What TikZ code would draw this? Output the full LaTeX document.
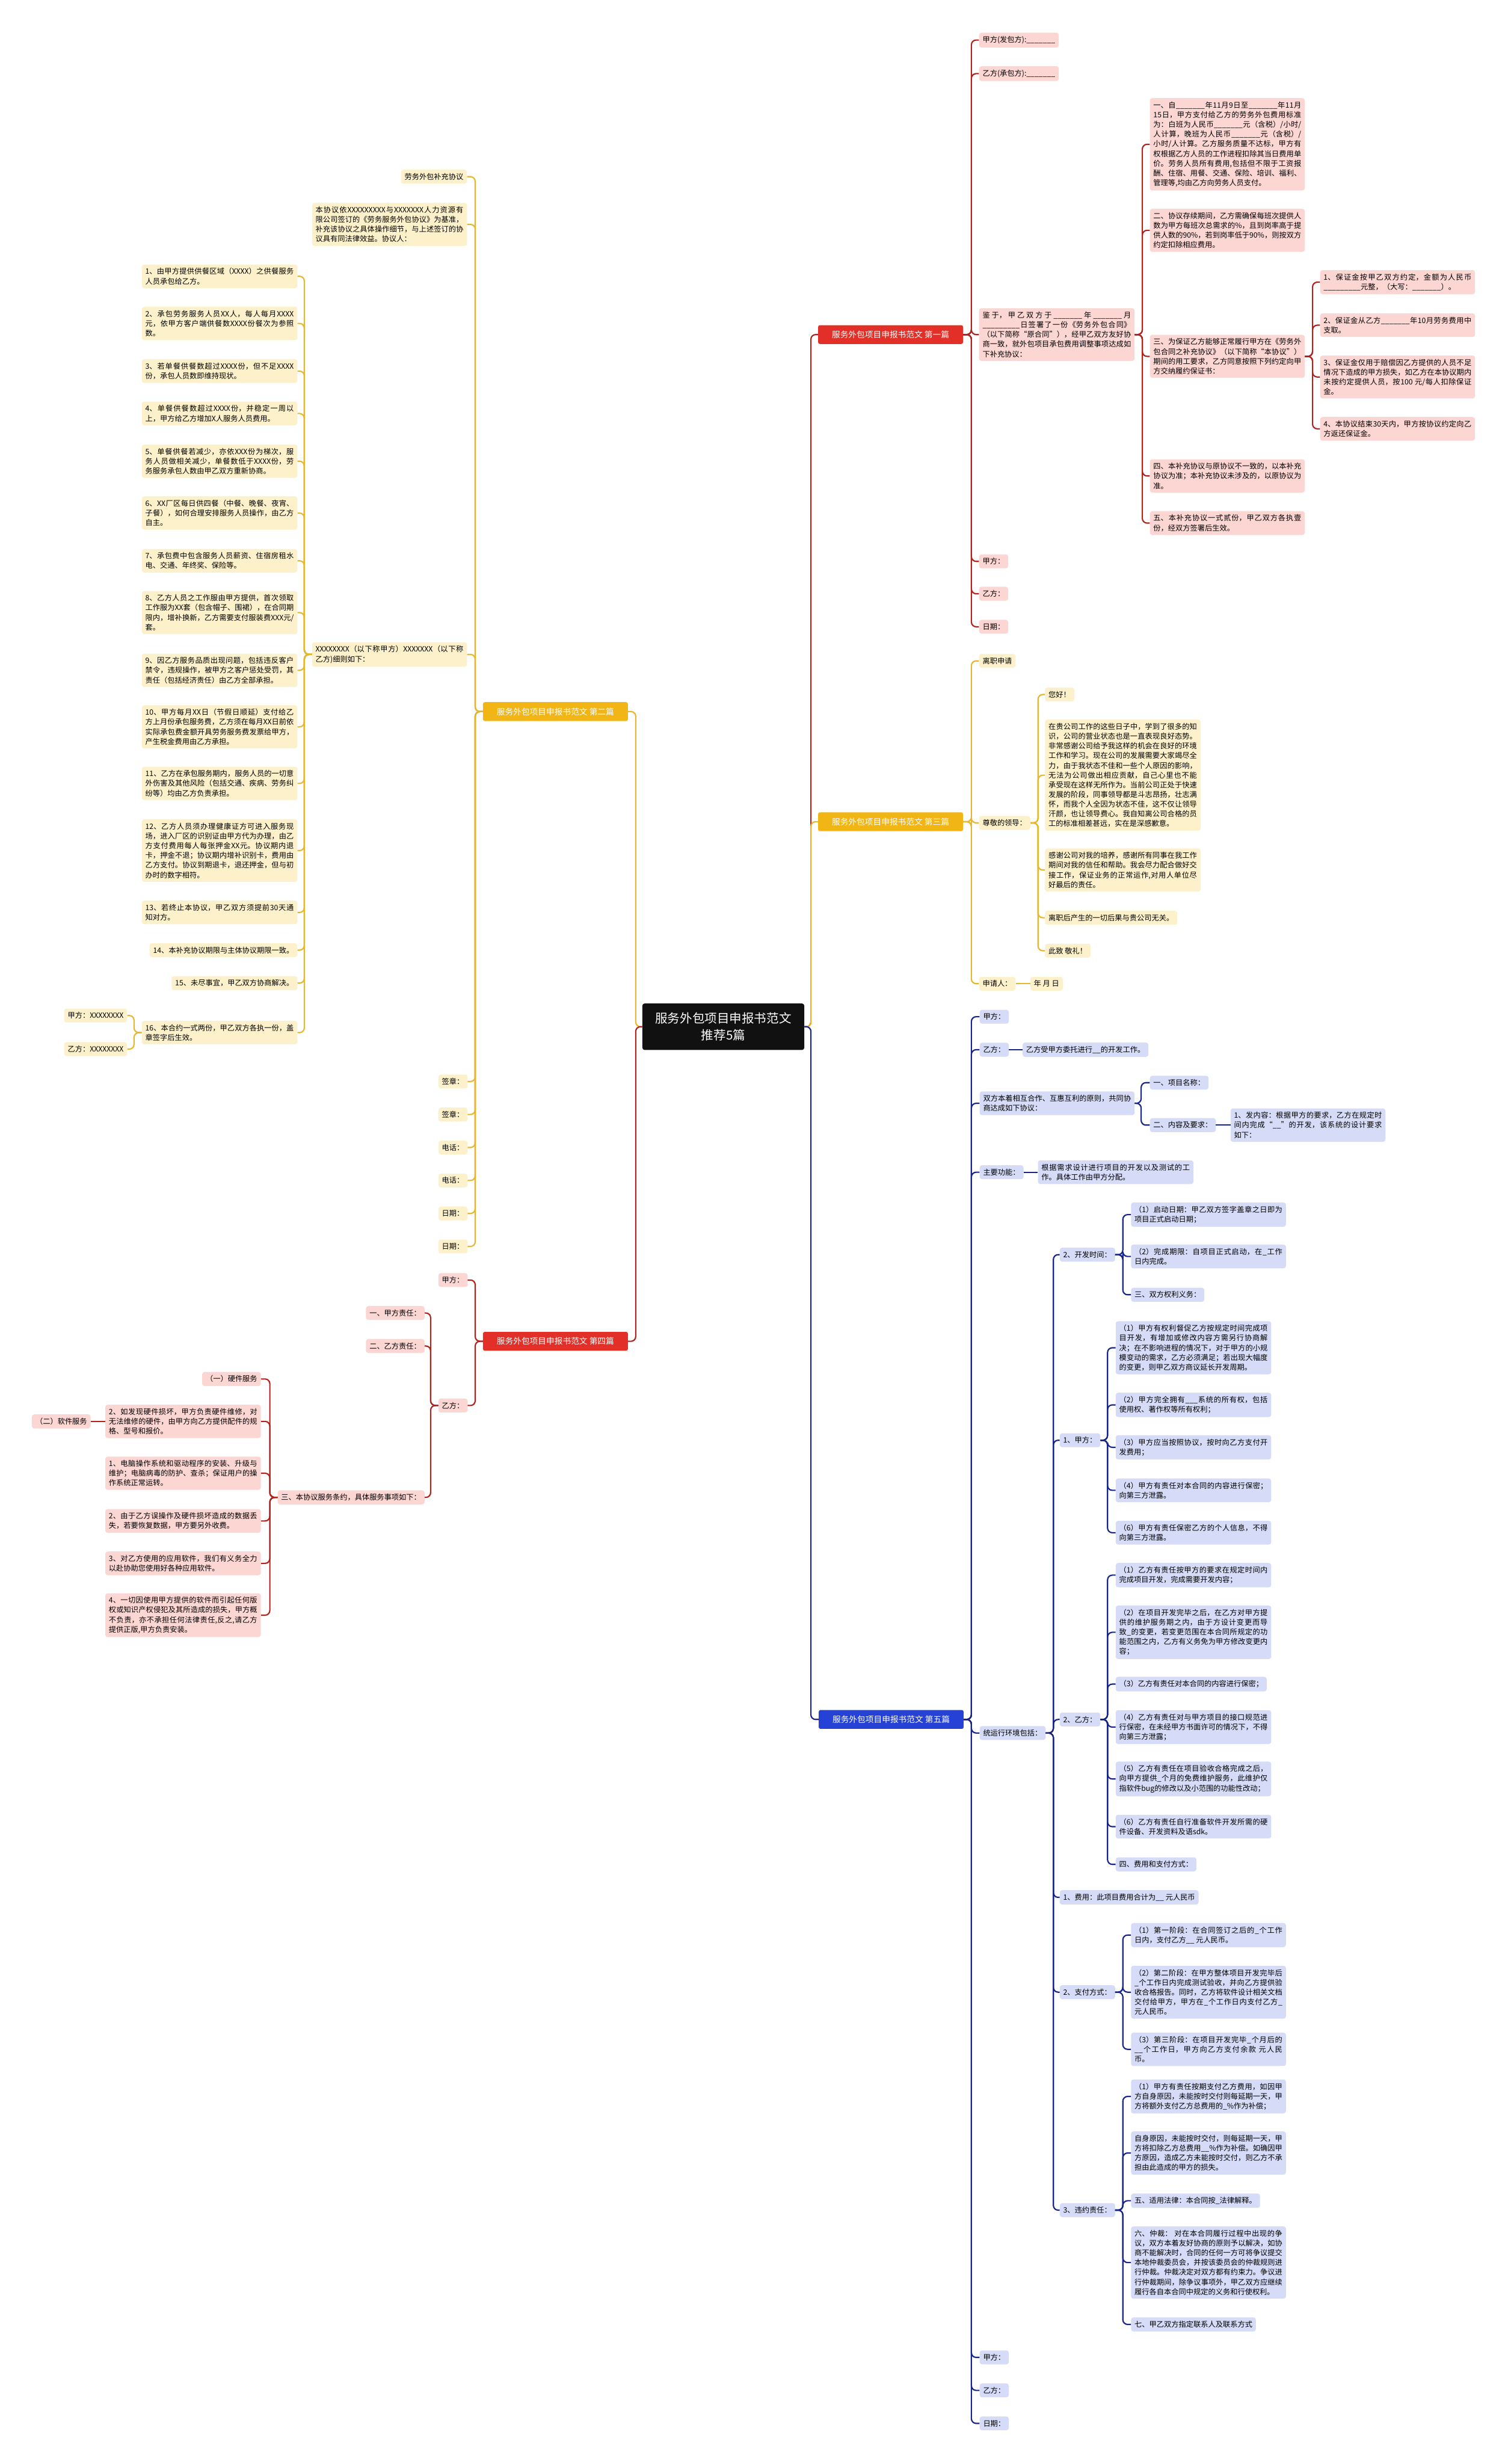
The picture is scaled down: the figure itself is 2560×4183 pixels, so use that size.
\documentclass[tikz,border=0pt]{standalone}
\usepackage{fontspec}
\setmainfont{Noto Sans CJK SC}
\XeTeXlinebreaklocale "zh"
\XeTeXlinebreakskip = 0pt plus 1pt
\usepackage{tikz}
\definecolor{rootcolor}{RGB}{17,17,17}
\definecolor{redhead}{RGB}{226,48,40}
\definecolor{redline}{RGB}{178,34,28}
\definecolor{redfill}{RGB}{251,214,211}
\definecolor{yelhead}{RGB}{241,181,22}
\definecolor{yelline}{RGB}{230,182,44}
\definecolor{yelfill}{RGB}{253,241,203}
\definecolor{bluehead}{RGB}{38,66,214}
\definecolor{blueline}{RGB}{22,36,140}
\definecolor{bluefill}{RGB}{214,219,247}
\newcommand{\blnk}{\_\_\_\_\_\_\_}

\begin{document}
\begin{tikzpicture}[
    x=1pt, y=-1pt,
    root/.style={rectangle, rounded corners=4pt, fill=rootcolor, text=white, minimum width=275pt, minimum height=79pt, align=center, font=\fontsize{21}{28}\selectfont},
    headbox/.style={rectangle, rounded corners=3pt, text=white, minimum width=246pt, minimum height=32pt, font=\fontsize{14}{16}\selectfont},
    topic/.style={rectangle, rounded corners=4pt, inner xsep=6pt, inner ysep=6pt, font=\fontsize{12.5}{16.5}\selectfont},
    redbox/.style={topic, fill=redfill},
    yelbox/.style={topic, fill=yelfill},
    bluebox/.style={topic, fill=bluefill},
    tw/.style={text width=#1, align=justify},
    redlink/.style={draw=redline, line width=2.2pt, rounded corners=8pt},
    yellink/.style={draw=yelline, line width=2.2pt, rounded corners=8pt},
    bluelink/.style={draw=blueline, line width=2.2pt, rounded corners=8pt}
]
\useasboundingbox (0,0) rectangle (2560,4183);
\fill[white] (0,0) rectangle (2560,4183);

% Root and headings
\node[root] (root) at (1228,1743) {服务外包项目申报书范文\\推荐5篇};
\node[headbox, fill=redhead] (h1) at (1512,568) {服务外包项目申报书范文 第一篇};
\node[headbox, fill=yelhead] (h2) at (943,1208) {服务外包项目申报书范文 第二篇};
\node[headbox, fill=yelhead] (h3) at (1512,1395) {服务外包项目申报书范文 第三篇};
\node[headbox, fill=redhead] (h4) at (943,2277) {服务外包项目申报书范文 第四篇};
\node[headbox, fill=bluehead] (h5) at (1513,2919) {服务外包项目申报书范文 第五篇};

% Branch 1
\node[redbox, anchor=west] (fa) at (1662,68) {甲方(发包方):\blnk};
\node[redbox, anchor=west] (cb) at (1662,125) {乙方(承包方):\blnk};
\node[redbox, anchor=west, tw=252pt] (whereas) at (1662,568) {鉴于，甲乙双方于\blnk 年\blnk 月\_\_\blnk 日签署了一份《劳务外包合同》（以下简称“原合同”），经甲乙双方友好协商一致，就外包项目承包费用调整事项达成如下补充协议：};
\node[redbox, anchor=west] (signA1) at (1662,953) {甲方：};
\node[redbox, anchor=west] (signB1) at (1662,1008) {乙方：};
\node[redbox, anchor=west] (date1) at (1662,1064) {日期：};

\node[redbox, anchor=west, tw=251pt] (cl1) at (1952,245) {一、自\blnk 年11月9日至\blnk 年11月15日，甲方支付给乙方的劳务外包费用标准为：白班为人民币\blnk 元（含税）/小时/人计算，晚班为人民币\blnk 元（含税）/小时/人计算。乙方服务质量不达标，甲方有权根据乙方人员的工作进程扣除其当日费用单价。劳务人员所有费用,包括但不限于工资报酬、住宿、用餐、交通、保险、培训、福利、管理等,均由乙方向劳务人员支付。};
\node[redbox, anchor=west, tw=251pt] (cl2) at (1952,391) {二、协议存续期间，乙方需确保每班次提供人数为甲方每班次总需求的\%，且到岗率高于提供人数的90\%，若到岗率低于90\%，则按双方约定扣除相应费用。};
\node[redbox, anchor=west, tw=251pt] (cl3) at (1952,605) {三、为保证乙方能够正常履行甲方在《劳务外包合同之补充协议》（以下简称“本协议”）期间的用工要求，乙方同意按照下列约定向甲方交纳履约保证书：};
\node[redbox, anchor=west, tw=251pt] (cl4) at (1952,808) {四、本补充协议与原协议不一致的，以本补充协议为准；本补充协议未涉及的，以原协议为准。};
\node[redbox, anchor=west, tw=251pt] (cl5) at (1952,888) {五、本补充协议一式贰份，甲乙双方各执壹份，经双方签署后生效。};

\node[redbox, anchor=west, tw=251pt] (dep1) at (2241,479) {1、保证金按甲乙双方约定，金额为人民币\_\_\blnk 元整，（大写：\blnk）。};
\node[redbox, anchor=west, tw=251pt] (dep2) at (2241,552) {2、保证金从乙方\blnk 年10月劳务费用中支取。};
\node[redbox, anchor=west, tw=251pt] (dep3) at (2241,640) {3、保证金仅用于赔偿因乙方提供的人员不足情况下造成的甲方损失，如乙方在本协议期内未按约定提供人员，按100 元/每人扣除保证金。};
\node[redbox, anchor=west, tw=251pt] (dep4) at (2241,728) {4、本协议结束30天内，甲方按协议约定向乙方返还保证金。};

% Branch 2
\node[yelbox, anchor=east] (title2) at (793,300) {劳务外包补充协议};
\node[yelbox, anchor=east, tw=251pt] (basis2) at (793,381) {本协议依XXXXXXXXX与XXXXXXX人力资源有限公司签订的《劳务服务外包协议》为基准，补充该协议之具体操作细节，与上述签订的协议具有同法律效益。协议人：};
\node[yelbox, anchor=east, tw=251pt] (parties2) at (793,1111) {XXXXXXXX（以下称甲方）XXXXXXX（以下称乙方)细则如下：};
\node[yelbox, anchor=east] (seal2a) at (794,1836) {签章：};
\node[yelbox, anchor=east] (seal2b) at (794,1892) {签章：};
\node[yelbox, anchor=east] (tel2a) at (794,1948) {电话：};
\node[yelbox, anchor=east] (tel2b) at (794,2004) {电话：};
\node[yelbox, anchor=east] (date2a) at (794,2060) {日期：};
\node[yelbox, anchor=east] (date2b) at (794,2116) {日期：};

\node[yelbox, anchor=east, tw=252pt] (it1) at (505,469) {1、由甲方提供供餐区域（XXXX）之供餐服务人员承包给乙方。};
\node[yelbox, anchor=east, tw=252pt] (it2) at (505,549) {2、承包劳务服务人员XX人，每人每月XXXX元，依甲方客户端供餐数XXXX份餐次为参照数。};
\node[yelbox, anchor=east, tw=252pt] (it3) at (505,630) {3、若单餐供餐数超过XXXX份，但不足XXXX份，承包人员数即维持现状。};
\node[yelbox, anchor=east, tw=252pt] (it4) at (505,702) {4、单餐供餐数超过XXXX份，并稳定一周以上，甲方给乙方增加X人服务人员费用。};
\node[yelbox, anchor=east, tw=252pt] (it5) at (505,783) {5、单餐供餐若减少，亦依XXX份为梯次，服务人员做相关减少，单餐数低于XXXX份，劳务服务承包人数由甲乙双方重新协商。};
\node[yelbox, anchor=east, tw=252pt] (it6) at (505,871) {6、XX厂区每日供四餐（中餐、晚餐、夜宵、子餐），如何合理安排服务人员操作，由乙方自主。};
\node[yelbox, anchor=east, tw=252pt] (it7) at (505,952) {7、承包费中包含服务人员薪资、住宿房租水电、交通、年终奖、保险等。};
\node[yelbox, anchor=east, tw=252pt] (it8) at (505,1040) {8、乙方人员之工作服由甲方提供，首次领取工作服为XX套（包含帽子、围裙），在合同期限内，增补换新，乙方需要支付服装费XXX元/套。};
\node[yelbox, anchor=east, tw=252pt] (it9) at (505,1138) {9、因乙方服务品质出现问题，包括违反客户禁令，违规操作，被甲方之客户惩处受罚，其责任（包括经济责任）由乙方全部承担。};
\node[yelbox, anchor=east, tw=252pt] (it10) at (505,1234) {10、甲方每月XX日（节假日顺延）支付给乙方上月份承包服务费，乙方须在每月XX日前依实际承包费金额开具劳务服务费发票给甲方，产生税金费用由乙方承担。};
\node[yelbox, anchor=east, tw=252pt] (it11) at (505,1330) {11、乙方在承包服务期内，服务人员的一切意外伤害及其他风险（包括交通、疾病、劳务纠纷等）均由乙方负责承担。};
\node[yelbox, anchor=east, tw=252pt] (it12) at (505,1444) {12、乙方人员须办理健康证方可进入服务现场，进入厂区的识别证由甲方代为办理，由乙方支付费用每人每张押金XX元。协议期内退卡，押金不退；协议期内增补识别卡，费用由乙方支付。协议到期退卡，退还押金，但与初办时的数字相符。};
\node[yelbox, anchor=east, tw=252pt] (it13) at (505,1549) {13、若终止本协议，甲乙双方须提前30天通知对方。};
\node[yelbox, anchor=east] (it14) at (505,1613) {14、本补充协议期限与主体协议期限一致。};
\node[yelbox, anchor=east] (it15) at (505,1669) {15、未尽事宜，甲乙双方协商解决。};
\node[yelbox, anchor=east, tw=252pt] (it16) at (505,1753) {16、本合约一式两份，甲乙双方各执一份，盖章签字后生效。};
\node[yelbox, anchor=east] (it16a) at (216,1724) {甲方：XXXXXXXX};
\node[yelbox, anchor=east] (it16b) at (216,1781) {乙方：XXXXXXXX};

% Branch 3
\node[yelbox, anchor=west] (resign) at (1662,1122) {离职申请};
\node[yelbox, anchor=west] (leader) at (1662,1397) {尊敬的领导：};
\node[yelbox, anchor=west] (applicant) at (1662,1670) {申请人：};
\node[yelbox, anchor=west] (ymd) at (1749,1670) {年 月 日};
\node[yelbox, anchor=west] (let1) at (1774,1179) {您好！};
\node[yelbox, anchor=west, tw=252pt] (let2) at (1774,1316) {在贵公司工作的这些日子中，学到了很多的知识，公司的营业状态也是一直表现良好态势。非常感谢公司给予我这样的机会在良好的环境工作和学习。现在公司的发展需要大家竭尽全力，由于我状态不佳和一些个人原因的影响，无法为公司做出相应贡献，自己心里也不能承受现在这样无所作为。当前公司正处于快速发展的阶段，同事领导都是斗志昂扬，壮志满怀，而我个人全因为状态不佳，这不仅让领导汗颜，也让领导费心。我自知离公司合格的员工的标准相差甚远，实在是深感歉意。};
\node[yelbox, anchor=west, tw=252pt] (let3) at (1774,1477) {感谢公司对我的培养，感谢所有同事在我工作期间对我的信任和帮助。我会尽力配合做好交接工作，保证业务的正常运作,对用人单位尽好最后的责任。};
\node[yelbox, anchor=west] (let4) at (1774,1558) {离职后产生的一切后果与贵公司无关。};
\node[yelbox, anchor=west] (let5) at (1774,1614) {此致 敬礼！};

% Branch 4
\node[redbox, anchor=east] (partyA4) at (794,2173) {甲方：};
\node[redbox, anchor=east] (partyB4) at (794,2386) {乙方：};
\node[redbox, anchor=east] (dutyA) at (721,2229) {一、甲方责任：};
\node[redbox, anchor=east] (dutyB) at (721,2285) {二、乙方责任：};
\node[redbox, anchor=east] (service) at (721,2542) {三、本协议服务条约，具体服务事项如下：};
\node[redbox, anchor=east] (svc1) at (443,2341) {（一）硬件服务};
\node[redbox, anchor=east, tw=252pt] (svc2) at (443,2413) {2、如发现硬件损坏，甲方负责硬件维修，对无法维修的硬件，由甲方向乙方提供配件的规格、型号和报价。};
\node[redbox, anchor=east, tw=252pt] (svc3) at (443,2501) {1、电脑操作系统和驱动程序的安装、升级与维护；电脑病毒的防护、查杀；保证用户的操作系统正常运转。};
\node[redbox, anchor=east, tw=252pt] (svc4) at (443,2582) {2、由于乙方误操作及硬件损坏造成的数据丢失，若要恢复数据，甲方要另外收费。};
\node[redbox, anchor=east, tw=252pt] (svc5) at (443,2654) {3、对乙方使用的应用软件，我们有义务全力以赴协助您使用好各种应用软件。};
\node[redbox, anchor=east, tw=252pt] (svc6) at (443,2742) {4、一切因使用甲方提供的软件而引起任何版权或知识产权侵犯及其所造成的损失，甲方概不负责，亦不承担任何法律责任,反之,请乙方提供正版,甲方负责安装。};
\node[redbox, anchor=east] (soft) at (154,2413) {（二）软件服务};

% Branch 5
\node[bluebox, anchor=west] (partyA5) at (1663,1726) {甲方：};
\node[bluebox, anchor=west] (partyB5) at (1663,1782) {乙方：};
\node[bluebox, anchor=west] (entrust) at (1736,1782) {乙方受甲方委托进行\_\_的开发工作。};
\node[bluebox, anchor=west, tw=251pt] (agree) at (1663,1873) {双方本着相互合作、互惠互利的原则，共同协商达成如下协议：};
\node[bluebox, anchor=west] (projname) at (1952,1838) {一、项目名称：};
\node[bluebox, anchor=west] (content) at (1952,1910) {二、内容及要求：};
\node[bluebox, anchor=west, tw=251pt] (contentA) at (2089,1910) {1、发内容：根据甲方的要求，乙方在规定时间内完成“\_\_”的开发，该系统的设计要求如下：};
\node[bluebox, anchor=west] (mainfn) at (1663,1990) {主要功能：};
\node[bluebox, anchor=west, tw=252pt] (mainfnA) at (1762,1990) {根据需求设计进行项目的开发以及测试的工作。具体工作由甲方分配。};
\node[bluebox, anchor=west] (env) at (1663,2942) {统运行环境包括：};
\node[bluebox, anchor=west] (sigA5) at (1663,4002) {甲方：};
\node[bluebox, anchor=west] (sigB5) at (1663,4058) {乙方：};
\node[bluebox, anchor=west] (date5) at (1663,4114) {日期：};

\node[bluebox, anchor=west] (devtime) at (1799,2130) {2、开发时间：};
\node[bluebox, anchor=west] (rightA) at (1799,2445) {1、甲方：};
\node[bluebox, anchor=west] (rightB) at (1799,2919) {2、乙方：};
\node[bluebox, anchor=west] (fee) at (1799,3221) {1、费用：此项目费用合计为\_\_ 元人民币};
\node[bluebox, anchor=west] (payway) at (1799,3382) {2、支付方式：};
\node[bluebox, anchor=west] (breach) at (1799,3752) {3、违约责任：};

\node[bluebox, anchor=west, tw=251pt] (dt1) at (1920,2062) {（1）启动日期：甲乙双方签字盖章之日即为项目正式启动日期；};
\node[bluebox, anchor=west, tw=251pt] (dt2) at (1920,2133) {（2）完成期限：自项目正式启动，在\_工作日内完成。};
\node[bluebox, anchor=west] (dt3) at (1920,2198) {三、双方权利义务：};

\node[bluebox, anchor=west, tw=252pt] (ra1) at (1894,2288) {（1）甲方有权利督促乙方按规定时间完成项目开发，有增加或修改内容方需另行协商解决；在不影响进程的情况下，对于甲方的小规模变动的需求，乙方必须满足；若出现大幅度的变更，则甲乙双方商议延长开发周期。};
\node[bluebox, anchor=west, tw=252pt] (ra2) at (1894,2385) {（2）甲方完全拥有\_\_\_系统的所有权，包括使用权、著作权等所有权利；};
\node[bluebox, anchor=west, tw=252pt] (ra3) at (1894,2457) {（3）甲方应当按照协议，按时向乙方支付开发费用；};
\node[bluebox, anchor=west, tw=252pt] (ra4) at (1894,2530) {（4）甲方有责任对本合同的内容进行保密；向第三方泄露。};
\node[bluebox, anchor=west, tw=252pt] (ra5) at (1894,2602) {（6）甲方有责任保密乙方的个人信息，不得向第三方泄露。};

\node[bluebox, anchor=west, tw=252pt] (rb1) at (1894,2674) {（1）乙方有责任按甲方的要求在规定时间内完成项目开发，完成需要开发内容；};
\node[bluebox, anchor=west, tw=252pt] (rb2) at (1894,2771) {（2）在项目开发完毕之后，在乙方对甲方提供的维护服务期之内，由于方设计变更而导致\_的变更，若变更范围在本合同所规定的功能范围之内，乙方有义务免为甲方修改变更内容；};
\node[bluebox, anchor=west] (rb3) at (1894,2859) {（3）乙方有责任对本合同的内容进行保密；};
\node[bluebox, anchor=west, tw=252pt] (rb4) at (1894,2932) {（4）乙方有责任对与甲方项目的接口规范进行保密，在未经甲方书面许可的情况下，不得向第三方泄露；};
\node[bluebox, anchor=west, tw=252pt] (rb5) at (1894,3020) {（5）乙方有责任在项目验收合格完成之后，向甲方提供\_个月的免费维护服务，此维护仅指软件bug的修改以及小范围的功能性改动；};
\node[bluebox, anchor=west, tw=252pt] (rb6) at (1894,3101) {（6）乙方有责任自行准备软件开发所需的硬件设备、开发资料及语sdk。};
\node[bluebox, anchor=west] (rb7) at (1894,3165) {四、费用和支付方式：};

\node[bluebox, anchor=west, tw=251pt] (pw1) at (1920,3285) {（1）第一阶段：在合同签订之后的\_个工作日内，支付乙方\_\_ 元人民币。};
\node[bluebox, anchor=west, tw=251pt] (pw2) at (1920,3382) {（2）第二阶段：在甲方整体项目开发完毕后\_个工作日内完成测试验收，并向乙方提供验收合格报告。同时，乙方将软件设计相关文档交付给甲方，甲方在\_个工作日内支付乙方\_ 元人民币。};
\node[bluebox, anchor=west, tw=251pt] (pw3) at (1920,3479) {（3）第三阶段：在项目开发完毕\_个月后的\_\_个工作日，甲方向乙方支付余款 元人民币。};

\node[bluebox, anchor=west, tw=251pt] (br1) at (1920,3559) {（1）甲方有责任按期支付乙方费用，如因甲方自身原因，未能按时交付则每延期一天，甲方将额外支付乙方总费用的\_\%作为补偿；};
\node[bluebox, anchor=west, tw=251pt] (br2) at (1920,3655) {自身原因，未能按时交付，则每延期一天，甲方将扣除乙方总费用\_\_\%作为补偿。如确因甲方原因，造成乙方未能按时交付，则乙方不承担由此造成的甲方的损失。};
\node[bluebox, anchor=west] (br3) at (1920,3736) {五、适用法律：本合同按\_法律解释。};
\node[bluebox, anchor=west, tw=251pt] (br4) at (1920,3841) {六、仲裁： 对在本合同履行过程中出现的争议，双方本着友好协商的原则予以解决，如协商不能解决时，合同的任何一方可将争议提交本地仲裁委员会，并按该委员会的仲裁规则进行仲裁。仲裁决定对双方都有约束力。争议进行仲裁期间，除争议事项外，甲乙双方应继续履行各自本合同中规定的义务和行使权利。};
\node[bluebox, anchor=west] (br5) at (1920,3946) {七、甲乙双方指定联系人及联系方式};

% Links from root
\draw[redlink] (root.east) -- ++(11,0) |- (h1.west);
\draw[yellink] (root.east) -- ++(11,0) |- (h3.west);
\draw[bluelink] (root.east) -- ++(11,0) |- (h5.west);
\draw[yellink] (root.west) -- ++(-11,0) |- (h2.east);
\draw[redlink] (root.west) -- ++(-11,0) |- (h4.east);

% Links, branch 1
\foreach \c in {fa,cb,whereas,signA1,signB1,date1}
  \draw[redlink] (h1.east) -- ++(14,0) |- (\c.west);
\foreach \c in {cl1,cl2,cl3,cl4,cl5}
  \draw[redlink] (whereas.east) -- ++(13,0) |- (\c.west);
\foreach \c in {dep1,dep2,dep3,dep4}
  \draw[redlink] (cl3.east) -- ++(13,0) |- (\c.west);

% Links, branch 2
\foreach \c in {title2,basis2,parties2,seal2a,seal2b,tel2a,tel2b,date2a,date2b}
  \draw[yellink] (h2.west) -- ++(-13,0) |- (\c.east);
\foreach \c in {it1,it2,it3,it4,it5,it6,it7,it8,it9,it10,it11,it12,it13,it14,it15,it16}
  \draw[yellink] (parties2.west) -- ++(-13,0) |- (\c.east);
\foreach \c in {it16a,it16b}
  \draw[yellink] (it16.west) -- ++(-13,0) |- (\c.east);

% Links, branch 3
\foreach \c in {resign,leader,applicant}
  \draw[yellink] (h3.east) -- ++(14,0) |- (\c.west);
\foreach \c in {let1,let2,let3,let4,let5}
  \draw[yellink] (leader.east) -- ++(13,0) |- (\c.west);
\draw[yellink] (applicant.east) -- (ymd.west);

% Links, branch 4
\foreach \c in {partyA4,partyB4}
  \draw[redlink] (h4.west) -- ++(-13,0) |- (\c.east);
\foreach \c in {dutyA,dutyB,service}
  \draw[redlink] (partyB4.west) -- ++(-13,0) |- (\c.east);
\foreach \c in {svc1,svc2,svc3,svc4,svc5,svc6}
  \draw[redlink] (service.west) -- ++(-13,0) |- (\c.east);
\draw[redlink] (svc2.west) -- (soft.east);

% Links, branch 5
\foreach \c in {partyA5,partyB5,agree,mainfn,env,sigA5,sigB5,date5}
  \draw[bluelink] (h5.east) -- ++(13,0) |- (\c.west);
\draw[bluelink] (partyB5.east) -- (entrust.west);
\foreach \c in {projname,content}
  \draw[bluelink] (agree.east) -- ++(11,0) |- (\c.west);
\draw[bluelink] (content.east) -- (contentA.west);
\draw[bluelink] (mainfn.east) -- (mainfnA.west);
\foreach \c in {devtime,rightA,rightB,fee,payway,breach}
  \draw[bluelink] (env.east) -- ++(13,0) |- (\c.west);
\foreach \c in {dt1,dt2,dt3}
  \draw[bluelink] (devtime.east) -- ++(13,0) |- (\c.west);
\foreach \c in {ra1,ra2,ra3,ra4,ra5}
  \draw[bluelink] (rightA.east) -- ++(12,0) |- (\c.west);
\foreach \c in {rb1,rb2,rb3,rb4,rb5,rb6,rb7}
  \draw[bluelink] (rightB.east) -- ++(12,0) |- (\c.west);
\foreach \c in {pw1,pw2,pw3}
  \draw[bluelink] (payway.east) -- ++(13,0) |- (\c.west);
\foreach \c in {br1,br2,br3,br4,br5}
  \draw[bluelink] (breach.east) -- ++(13,0) |- (\c.west);

\end{tikzpicture}
\end{document}
